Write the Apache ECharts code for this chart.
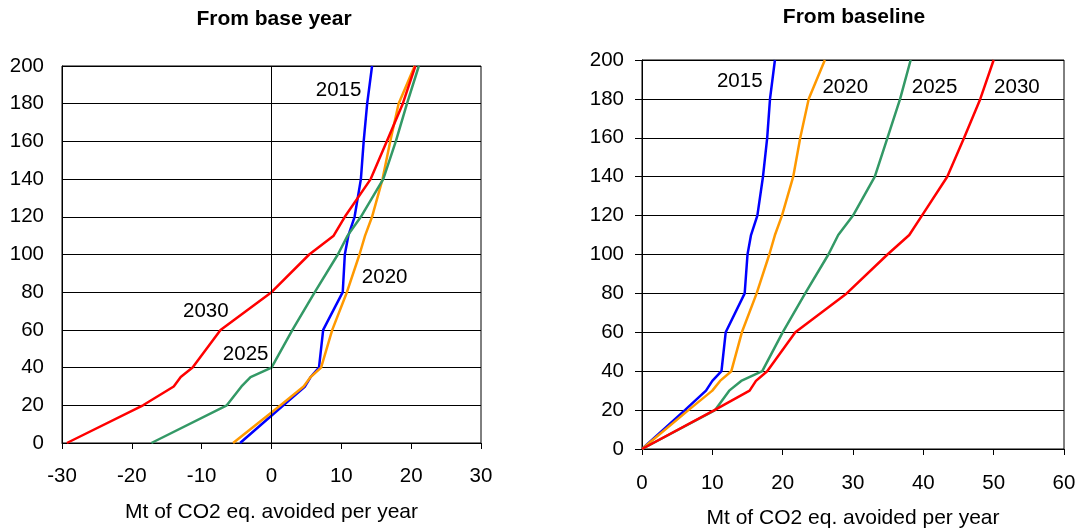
<!DOCTYPE html>
<html>
<head>
<meta charset="utf-8">
<script src="https://cdn.jsdelivr.net/npm/echarts@6/dist/echarts.min.js"></script>
<style>
  html, body { margin: 0; padding: 0; background: #fff; }
  #chart { width: 1087px; height: 531px; }
</style>
</head>
<body>
<div id="chart"></div>
<script>
// shared cumulative levels (y axis)
const levels = [0, 20, 30, 35, 40, 60, 80, 100, 110, 120, 140, 160, 180, 200];
const years = ['2015', '2020', '2025', '2030'];
const colors = ['#0000ff', '#ff9900', '#339966', '#ff0000'];

// From base year (left panel), Mt avoided
const base2015 = [-4.5, 1.7, 4.8, 5.6, 6.8, 7.4, 10.2, 10.5, 11.0, 11.9, 12.8, 13.2, 13.7, 14.4];
const base2020 = [-5.5, 1.3, 4.6, 5.6, 7.1, 8.7, 10.8, 12.6, 13.4, 14.4, 15.9, 17.0, 18.2, 20.5];
const base2025 = [-17.2, -6.4, -4.3, -3.0, 0, 3.0, 6.2, 9.5, 10.9, 12.8, 16.0, 17.8, 19.4, 21.1];
const base2030 = [-29.3, -18.4, -14.0, -13.0, -11.3, -7.3, 0, 5.4, 8.9, 10.5, 14.2, 16.5, 18.8, 20.6];

// From baseline (right panel)
const line2015 = [0, 6.1, 9.1, 10.0, 11.3, 11.9, 14.6, 15.0, 15.5, 16.4, 17.2, 17.8, 18.2, 18.9];
const line2020 = [0, 6.6, 10.0, 11.1, 12.7, 14.2, 16.3, 18.1, 18.9, 19.9, 21.5, 22.5, 23.7, 26.0];
const line2025 = [0, 10.4, 12.4, 14.1, 17.1, 20.0, 23.2, 26.5, 27.9, 30.0, 33.1, 34.9, 36.7, 38.2];
const line2030 = [0, 10.3, 15.3, 16.2, 17.8, 21.8, 29.1, 34.9, 38.0, 39.8, 43.4, 45.8, 48.1, 50.0];

// year label anchors, in data units
const baseLabels = [[9.6, 187], [16.2, 88], [-3.7, 47], [-9.4, 70]];
const lineLabels = [[13.9, 189], [28.9, 186], [41.6, 186], [53.3, 186]];

const font = 'Liberation Sans, Arial, sans-serif';

const chart = echarts.init(document.getElementById('chart'));

function xAxisOf(idx, min, max, margin) {
    return {
        gridIndex: idx,
        type: 'value',
        min: min,
        max: max,
        interval: 10,
        name: 'Mt of CO2 eq. avoided per year',
        nameLocation: 'middle',
        nameGap: 59,
        nameTextStyle: { color: '#000', fontSize: 21, fontFamily: font },
        axisLine: { onZero: false, lineStyle: { color: '#000', width: 1 } },
        axisTick: { show: true, length: 6, lineStyle: { color: '#000' } },
        axisLabel: { color: '#000', fontSize: 20.5, margin: margin, fontFamily: font },
        splitLine: { show: false }
    };
}

function yAxisOf(idx, ticks) {
    return {
        gridIndex: idx,
        type: 'value',
        min: 0,
        max: 200,
        interval: 20,
        axisLine: { show: true, onZero: false, lineStyle: { color: '#000', width: 1 } },
        axisTick: { show: ticks, length: 7, lineStyle: { color: '#000' } },
        axisLabel: { color: '#000', fontSize: 20.5, margin: 18, fontFamily: font },
        splitLine: { show: true, lineStyle: { color: '#000', width: 1 } }
    };
}

function seriesOf(panel, i, xs, label) {
    return {
        name: years[i] + (panel ? ' baseline' : ' base'),
        type: 'line',
        xAxisIndex: panel,
        yAxisIndex: panel,
        showSymbol: false,
        symbol: 'none',
        lineStyle: { color: colors[i], width: 2.5 },
        data: xs.map((x, k) => [x, levels[k]]),
        markPoint: {
            symbol: 'circle',
            symbolSize: 0,
            silent: true,
            label: {
                show: true,
                position: 'inside',
                color: '#000',
                fontSize: 20.5,
                fontFamily: font,
                formatter: years[i]
            },
            data: [{ coord: label }]
        }
    };
}

const option = {
    backgroundColor: '#fff',
    animation: false,
    title: [
        {
            text: 'From base year',
            left: 269,
            top: 4,
            textAlign: 'center',
            textStyle: { fontSize: 21, fontWeight: 'bold', color: '#000', fontFamily: font }
        },
        {
            text: 'From baseline',
            left: 849,
            top: 2,
            textAlign: 'center',
            textStyle: { fontSize: 21, fontWeight: 'bold', color: '#000', fontFamily: font }
        }
    ],
    grid: [
        { left: 62, right: 606, top: 66, bottom: 88, show: true, borderColor: '#000', borderWidth: 1, outerBoundsMode: 'none' },
        { left: 642, right: 23, top: 60, bottom: 82, show: true, borderColor: '#000', borderWidth: 1, outerBoundsMode: 'none' }
    ],
    xAxis: [xAxisOf(0, -30, 30, 23), xAxisOf(1, 0, 60, 24)],
    yAxis: [yAxisOf(0, false), yAxisOf(1, true)],
    series: [
        seriesOf(0, 0, base2015, baseLabels[0]),
        seriesOf(0, 1, base2020, baseLabels[1]),
        seriesOf(0, 2, base2025, baseLabels[2]),
        seriesOf(0, 3, base2030, baseLabels[3]),
        seriesOf(1, 0, line2015, lineLabels[0]),
        seriesOf(1, 1, line2020, lineLabels[1]),
        seriesOf(1, 2, line2025, lineLabels[2]),
        seriesOf(1, 3, line2030, lineLabels[3])
    ]
};

// vertical zero line inside the left panel
option.series[0].markLine = {
    silent: true,
    symbol: 'none',
    label: { show: false },
    lineStyle: { color: '#000', width: 1, type: 'solid' },
    data: [{ xAxis: 0 }]
};

chart.setOption(option);
window.addEventListener('resize', () => chart.resize());
</script>
</body>
</html>
